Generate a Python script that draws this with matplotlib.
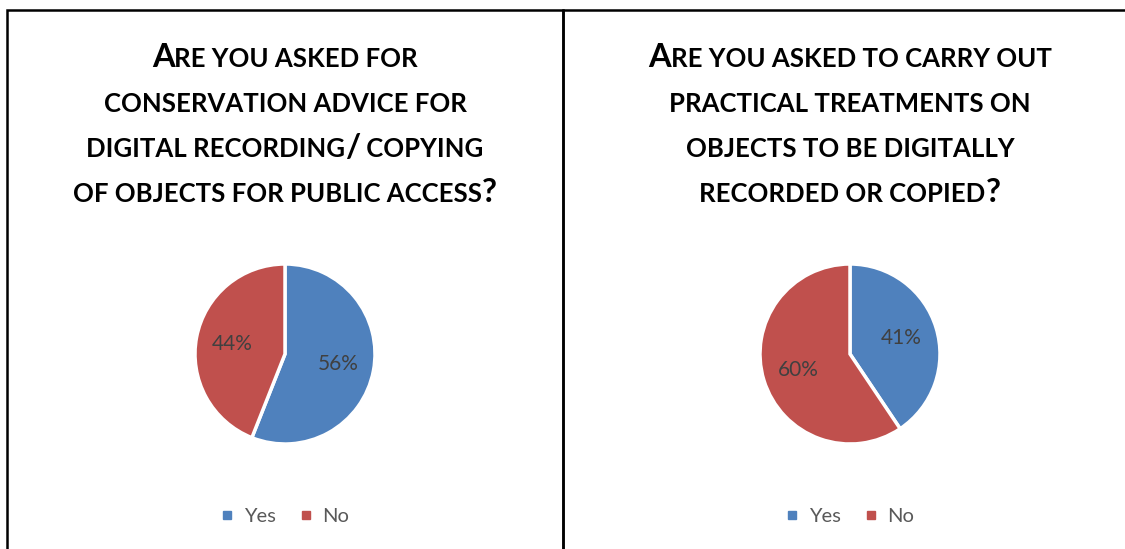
import matplotlib
matplotlib.use("Agg")
import matplotlib.pyplot as plt
from matplotlib.lines import Line2D
from matplotlib.patches import Rectangle

W, H = 1125, 549
DPI = 100

answers = ["Yes", "No"]
colors = ["#4F81BD", "#C0504D"]

advice_pct = [56, 44]
treatment_pct = [41, 60]

advice_title = [
    "Are you asked for",
    "conservation advice for",
    "digital recording/ copying",
    "of objects for public access?",
]
treatment_title = [
    "Are you asked to carry out",
    "practical treatments on",
    "objects to be digitally",
    "recorded or copied?",
]

TITLE_FONT = "Lato"
BIG, SMALL = 23.5, 18.5


def px(x, y):
    """pixel position (from top-left) -> figure fraction"""
    return x / W, 1 - y / H


def runs(line):
    # lowercase letters and spaces become small caps, everything else full size
    out = []
    for ch in line:
        small = ch.islower() or ch == " "
        if out and out[-1][1] == small:
            out[-1][0] += ch
        else:
            out.append([ch, small])
    return out


def small_caps_line(fig, renderer, line, cx, baseline):
    texts = []
    for chunk, small in runs(line):
        t = fig.text(0, 0, chunk.upper(), fontsize=SMALL if small else BIG,
                     fontweight="bold", family=TITLE_FONT, color="black",
                     ha="left", va="baseline")
        texts.append(t)
    widths = [t.get_window_extent(renderer).width for t in texts]
    x = cx - sum(widths) / 2
    for t, w in zip(texts, widths):
        t.set_position(px(x, baseline))
        x += w


def pie_panel(fig, renderer, values, title, cx, cy, r=90):
    ax = fig.add_axes([(cx - r) / W, (H - cy - r) / H, 2 * r / W, 2 * r / H])
    wedges, texts = ax.pie(values, colors=colors, startangle=90, counterclock=False,
                           labels=[f"{v}%" for v in values], labeldistance=0.6,
                           wedgeprops=dict(edgecolor="white", linewidth=2.5))
    for t in texts:
        t.set_ha("center")
        t.set_va("center")
        t.set_fontsize(15)
        t.set_color("#404040")
        t.set_family("Lato")
    ax.set_xlim(-1, 1)
    ax.set_ylim(-1, 1)
    ax.set_aspect("equal")
    ax.axis("off")

    for i, line in enumerate(title):
        small_caps_line(fig, renderer, line, cx, 67 + 45 * i)

    handles = [Line2D([], [], marker="s", linestyle="", markersize=6, color=c)
               for c in colors]
    fig.legend(handles, answers, loc="center", bbox_to_anchor=px(cx, 516),
               ncol=2, frameon=False, handlelength=0.6, handletextpad=0.5,
               columnspacing=1.2, prop=dict(family="Lato", size=14.5),
               labelcolor="#595959")


fig = plt.figure(figsize=(W / DPI, H / DPI), dpi=DPI)
renderer = fig.canvas.get_renderer()

# panel frames, cut off by the bottom and right edges
fig.add_artist(Rectangle(px(7, H + 20), (563 - 7) / W, (H + 10) / H,
                         transform=fig.transFigure, fill=False, ec="black", lw=1.8))
fig.add_artist(Rectangle(px(563, H + 20), (W + 20 - 563) / W, (H + 10) / H,
                         transform=fig.transFigure, fill=False, ec="black", lw=1.8))

pie_panel(fig, renderer, advice_pct, advice_title, 285, 354)
pie_panel(fig, renderer, treatment_pct, treatment_title, 850, 354)

fig.savefig("out.png", dpi=DPI)
